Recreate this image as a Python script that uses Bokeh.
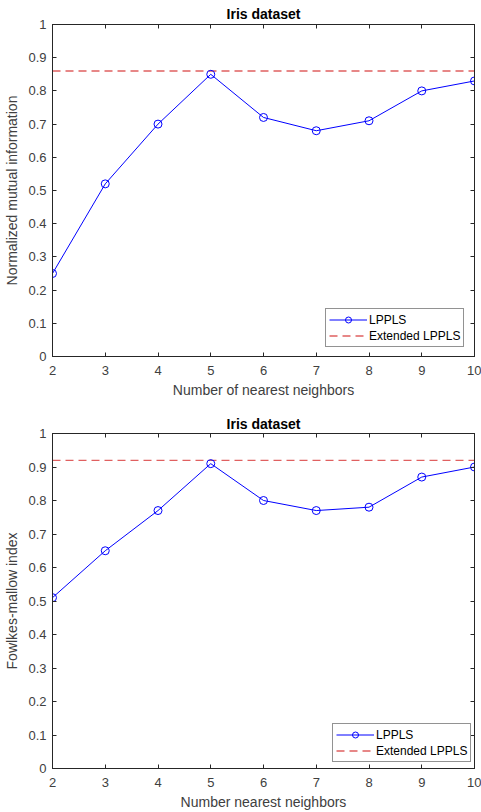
from bokeh.plotting import figure
from bokeh.models import LinearAxis, FixedTicker, Range1d
from bokeh.layouts import column
from bokeh.embed import file_html
from bokeh.resources import INLINE

# ---- data ----
neighbors = [2, 3, 4, 5, 6, 7, 8, 9, 10]
nmi_lppls = [0.25, 0.52, 0.70, 0.85, 0.72, 0.68, 0.71, 0.80, 0.83]
nmi_extended = 0.86
fmi_lppls = [0.51, 0.65, 0.77, 0.91, 0.80, 0.77, 0.78, 0.87, 0.90]
fmi_extended = 0.92
y_ticks = [0, 0.1, 0.2, 0.3, 0.4, 0.5, 0.6, 0.7, 0.8, 0.9, 1]
x_ticks = [2, 3, 4, 5, 6, 7, 8, 9, 10]

FONT = "Liberation Sans"
AX_COL = "#262626"
TXT_COL = "#404040"


def style_axis(ax, ticks, show_labels=True):
    ax.ticker = FixedTicker(ticks=ticks)
    ax.axis_line_color = AX_COL
    ax.major_tick_line_color = AX_COL
    ax.major_tick_in = 4
    ax.major_tick_out = 0
    ax.minor_tick_line_color = None
    ax.major_label_text_font = FONT
    ax.axis_label_text_font = FONT
    ax.axis_label_text_font_style = "normal"
    ax.axis_label_text_color = TXT_COL
    ax.axis_label_text_font_size = "14px"
    if show_labels:
        ax.major_label_text_font_size = "13px"
        ax.major_label_text_color = TXT_COL
    else:
        ax.major_label_text_font_size = "1px"
        ax.major_label_text_color = None
        ax.major_label_standoff = 0


def make_panel(values, ext, ylabel, xlabel, top, bottom, legend_loc, title_gap):
    p = figure(width=481, height=406, output_backend="svg", toolbar_location=None,
               x_range=Range1d(2, 10), y_range=Range1d(0, 1),
               min_border_left=52, min_border_right=7,
               min_border_top=top, min_border_bottom=bottom,
               title="Iris dataset")
    p.title.align = "center"
    p.title.text_font = FONT
    p.title.text_font_size = "14px"
    p.title.text_font_style = "bold"
    p.title.text_color = "#000000"
    p.title.standoff = title_gap
    p.title.offset = 0
    p.grid.visible = False
    p.outline_line_color = AX_COL
    p.background_fill_color = "white"
    p.border_fill_color = "white"

    style_axis(p.xaxis[0], x_ticks)
    style_axis(p.yaxis[0], y_ticks)
    p.xaxis[0].axis_label = xlabel
    p.xaxis[0].major_label_standoff = 9
    p.xaxis[0].axis_label_standoff = 4
    p.yaxis[0].axis_label = ylabel
    p.yaxis[0].major_label_standoff = 6
    p.yaxis[0].axis_label_standoff = 5

    ax_top = LinearAxis()
    style_axis(ax_top, x_ticks, show_labels=False)
    p.add_layout(ax_top, "above")
    ax_right = LinearAxis()
    style_axis(ax_right, y_ticks, show_labels=False)
    p.add_layout(ax_right, "right")

    xs_ext = [min(neighbors), max(neighbors)]
    p.line(xs_ext, [ext, ext], line_color="#e06060", line_width=1.3,
           line_dash="8 5", legend_label="Extended LPPLS")
    p.line(neighbors, values, line_color="#0000ff", line_width=1, legend_label="LPPLS")
    p.scatter(neighbors, values, marker="circle", size=8, fill_color=None,
              line_color="#0000ff", line_width=1, legend_label="LPPLS")

    lg = p.legend[0]
    items = lg.items
    lg.items = [items[1], items[0]]
    lg.location = legend_loc
    lg.label_text_font = FONT
    lg.label_text_font_size = "12px"
    lg.label_text_color = "#000000"
    lg.glyph_width = 38
    lg.glyph_height = 15
    lg.label_height = 15
    lg.label_standoff = 2
    lg.padding = 3
    lg.spacing = 1
    lg.margin = 0
    lg.border_line_color = AX_COL
    lg.border_line_width = 1
    lg.background_fill_alpha = 1
    return p


p1 = make_panel(nmi_lppls, nmi_extended, "Normalized mutual information",
                "Number of nearest neighbors", 24, 50, (273, 9), 5)
p2 = make_panel(fmi_lppls, fmi_extended, "Fowlkes-mallow index",
                "Number nearest neighbors", 27, 44, (280, 6), 3)

layout = column(p1, p2, spacing=0)
open("out.html", "w").write(file_html(layout, INLINE))
